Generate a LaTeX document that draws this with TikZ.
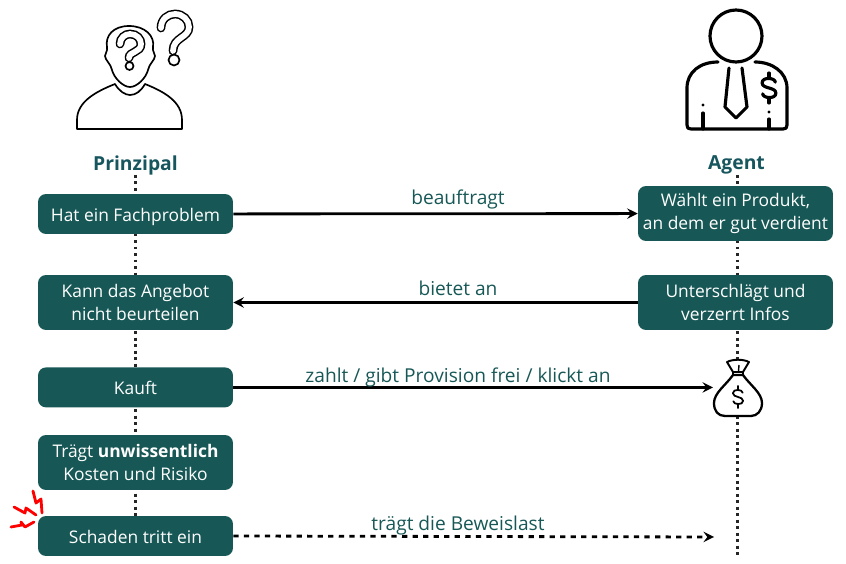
\documentclass[tikz,border=0pt]{standalone}
\usepackage{fontspec}
\setmainfont{Open Sans}
\usetikzlibrary{positioning,calc,arrows}
\definecolor{boxteal}{HTML}{175856}
\definecolor{headteal}{HTML}{17565E}
\tikzset{
  schritt/.style={draw=none,fill=boxteal,rounded corners=0.16cm,text=white,align=center,inner sep=0pt,minimum width=3.9cm,font=\fontsize{9.9}{13}\selectfont},
  kurz/.style={schritt,minimum height=0.8cm,execute at begin node={\rule[-2.4pt]{0pt}{13.3pt}}},
  lang/.style={schritt,minimum height=1.1cm,execute at begin node={\rule[1pt]{0pt}{13pt}}},
  lebenslinie/.style={line width=1.7pt,dotted,black!85},
  pfeil/.style={->,line width=1.6pt},
  beschrift/.style={text=boxteal,inner sep=0pt,font=\fontsize{10.9}{13}\selectfont},
  titel/.style={text=headteal,inner sep=0pt,font=\fontsize{11}{13}\selectfont\bfseries},
  umriss/.style={line width=0.95pt,line join=round},
  frage/.style={line width=0.85pt,double=white,double distance=0.115cm,line cap=round},
  kontur/.style={line width=1.8pt,line cap=round,line join=round},
  blitz/.style={red,line width=1.6pt,line join=round,line cap=round},
  dollar/.pic={
    \draw[pic actions] (5.5,-5) .. controls (5.5,-9) and (-6,-10) .. (-6,-4.5) .. controls (-6,1) and (6,-1) .. (6,4.5) .. controls (6,10) and (-5.5,9) .. (-5.5,5);
    \draw[pic actions] (0,-13) -- (0,-8.5);
    \draw[pic actions] (0,8.5) -- (0,13);
  }
}
\begin{document}
\begin{tikzpicture}[x=0.02cm,y=-0.02cm,>=stealth]
  \useasboundingbox (0,0) rectangle (846,564);
  % lines behind the boxes
  \coordinate (linksoben) at (135.5,175);
  \coordinate (linksunten) at (135.5,520);
  \coordinate (rechtsoben) at (737.5,175);
  \coordinate (rechtsunten) at (737.5,555);
  \draw[lebenslinie] (linksoben) -- (linksunten);
  \draw[lebenslinie] (rechtsoben) -- (rechtsunten);

  \node[titel] (prinzipal) at (135.5,165) {Prinzipal};
  \node[titel] (agent) at (736.5,165) {Agent};

  \node[kurz] (hat) at (135.5,214) {Hat ein Fachproblem};
  \node[lang] (kann) at (135.5,302.5) {Kann das Angebot\\nicht beurteilen};
  \node[kurz] (kauft) at (135.5,387.4) {Kauft};
  \node[lang] (traegt) at (135.5,462.5) {Trägt \textbf{unwissentlich}\\Kosten und Risiko};
  \node[kurz] (schaden) at (135.5,536) {Schaden tritt ein};
  \node[lang] (waehlt) at (735.5,213.5) {Wählt ein Produkt,\\an dem er gut verdient};
  \node[lang] (verzerrt) at (735.5,302.5) {Unterschlägt und\\verzerrt Infos};

  \coordinate (sack) at (713,387.4);
  \coordinate (ende) at (714,537);
  \draw[pfeil] (hat) -- (waehlt);
  \draw[pfeil] (verzerrt) -- (kann);
  \draw[pfeil] (kauft.east) -- (sack);
  \draw[pfeil,dashed] (schaden.east) -- (ende);

  \node[beschrift] (beauftragt) at (458,199) {beauftragt};
  \node[beschrift] (bietet) at (458,288) {bietet an};
  \node[beschrift] (zahlt) at (458,377) {zahlt / gibt Provision frei / klickt an};
  \node[beschrift] (beweis) at (458,526) {trägt die Beweislast};

  % person with the questions
  \draw[umriss] (129,26) .. controls (113,26) and (105,36) .. (107,47) .. controls (108,51) and (105,53) .. (105,56) .. controls (105,60) and (111,64) .. (112,70) .. controls (114,78) and (123,87) .. (130,87) .. controls (137,87) and (146,78) .. (148,70) .. controls (149,64) and (155,60) .. (155,56) .. controls (155,53) and (152,51) .. (153,47) .. controls (155,36) and (145,26) .. (129,26) -- cycle;
  \draw[umriss] (115,84) .. controls (119,91) and (125,95) .. (130,95) .. controls (136,95) and (141,91) .. (145,84) .. controls (165,92) and (182,102) .. (182,120) -- (182,129) -- (77,129) -- (77,120) .. controls (77,102) and (95,92) .. (115,84) -- cycle;
  \draw[frage] (161,28) .. controls (161,19) and (168,14) .. (175,14) .. controls (183,14) and (189,20) .. (189,27) .. controls (189,38) and (173,37) .. (173,51);
  \draw[umriss] (174,60) circle (5.5);
  \draw[frage] (120,44) .. controls (120,38) and (125,34) .. (130,34) .. controls (137,34) and (141,39) .. (141,44) .. controls (141,53) and (129,51) .. (129,58);
  \draw[umriss] (129.5,66) circle (4);

  % agent with the tie
  \draw[kontur] (736,36) circle (26);
  \draw[kontur] (718,62) .. controls (700,62) and (687,72) .. (687,88) -- (687,125) .. controls (687,128) and (688,129) .. (691,129) -- (783,129) .. controls (786,129) and (787,128) .. (787,125) -- (787,88) .. controls (787,72) and (772,62) .. (755,62);
  \draw[kontur] (729,68) -- (725,107) -- (736,118) -- (747,107) -- (742,68);
  \draw[kontur] (703,113) -- (703,129);
  \fill (703,105) circle (1.7);
  \draw[kontur] (769,119) -- (769,129);
  \fill (769,112) circle (1.7);
  \pic[kontur,scale=1.15] at (769,88) {dollar};

  % money bag
  \draw[kontur,line width=1.3pt,fill=white] (733,375) .. controls (726,385) and (714,393) .. (714,403) .. controls (714,411) and (718,416) .. (725,416) -- (751,416) .. controls (757,416) and (762,411) .. (762,403) .. controls (762,393) and (750,385) .. (743,375) -- cycle;
  \draw[kontur,line width=1.1pt,fill=white] (733,372) -- (727,362) .. controls (733,359) and (743,359) .. (749,362) -- (743,372) -- cycle;
  \draw[line width=1.1pt] (733,372) rectangle (743,375);
  \draw[line width=0.8pt] (739,365) -- (738.5,371);
  \pic[kontur,line width=1pt,scale=0.85] at (738,397) {dollar};

  % red flash
  \draw[blitz] (33,491) -- (36,503) -- (41,499) -- (42,513);
  \draw[blitz] (14,507) -- (25,513) -- (26,508) -- (36,515);
  \draw[blitz] (11,527) -- (22,525) -- (21,522) -- (25,527) -- (34,522);
\end{tikzpicture}
\end{document}
